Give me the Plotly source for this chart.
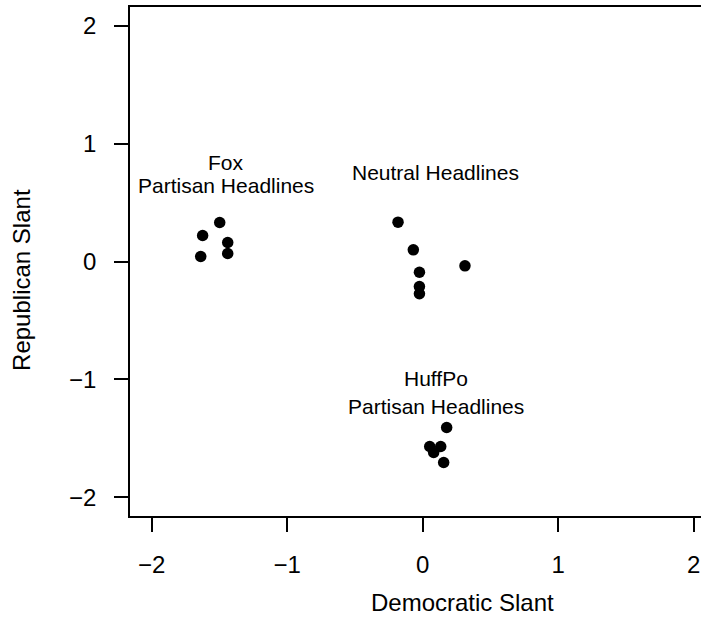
import plotly.graph_objects as go

# Data
fox_x = [-1.498, -1.624, -1.439, -1.439, -1.638]
fox_y = [0.331, 0.221, 0.161, 0.068, 0.042]

neutral_x = [-0.182, -0.069, 0.312, -0.024, -0.024, -0.024]
neutral_y = [0.334, 0.099, -0.037, -0.091, -0.212, -0.274]

huff_x = [0.177, 0.052, 0.133, 0.081, 0.155]
huff_y = [-1.409, -1.570, -1.570, -1.621, -1.706]

tick_vals = [-2, -1, 0, 1, 2]

labels = [
    ("Fox", -1.454, 0.843),
    ("Partisan Headlines", -1.454, 0.645),
    ("Neutral Headlines", 0.092, 0.756),
    ("HuffPo", 0.101, -0.993),
    ("Partisan Headlines", 0.101, -1.231),
]

FONT = "Liberation Sans, Arial, Helvetica, sans-serif"

fig = go.Figure()
for xs, ys in [(fox_x, fox_y), (neutral_x, neutral_y), (huff_x, huff_y)]:
    fig.add_trace(go.Scatter(
        x=xs, y=ys, mode="markers",
        marker=dict(color="black", size=11.5, line=dict(width=0)),
        showlegend=False, hoverinfo="skip",
    ))

annotations = []
for txt, ax, ay in labels:
    annotations.append(dict(
        x=ax, y=ay, xref="x", yref="y", text=txt, showarrow=False,
        font=dict(family=FONT, size=21, color="black"),
        xanchor="center", yanchor="middle",
    ))

annotations.append(dict(
    x=0.583, y=-0.17, xref="paper", yref="paper", text="Democratic Slant",
    showarrow=False, font=dict(family=FONT, size=24, color="black"),
    xanchor="center", yanchor="middle",
))
annotations.append(dict(
    x=-0.189, y=0.464, xref="paper", yref="paper", text="Republican Slant",
    showarrow=False, textangle=-90, font=dict(family=FONT, size=24, color="black"),
    xanchor="center", yanchor="middle",
))

fig.update_layout(
    width=701, height=635,
    margin=dict(l=130, r=0, t=7, b=119),
    paper_bgcolor="white", plot_bgcolor="white",
    font=dict(family=FONT, size=24, color="black"),
    annotations=annotations,
    xaxis=dict(
        range=[-2.16, 2.054], tickvals=tick_vals,
        showgrid=False, zeroline=False,
        showline=True, linecolor="black", linewidth=1.5, mirror=True,
        ticks="outside", ticklen=14, tickwidth=1.5, tickcolor="black",
        ticklabelstandoff=12, automargin=False,
        tickfont=dict(family=FONT, size=24, color="black"),
    ),
    yaxis=dict(
        range=[-2.16, 2.16], tickvals=tick_vals,
        showgrid=False, zeroline=False,
        showline=True, linecolor="black", linewidth=1.5, mirror=False,
        ticks="outside", ticklen=14, tickwidth=1.5, tickcolor="black",
        ticklabelstandoff=13, automargin=False,
        tickfont=dict(family=FONT, size=24, color="black"),
    ),
)

fig.write_html("out.html")
